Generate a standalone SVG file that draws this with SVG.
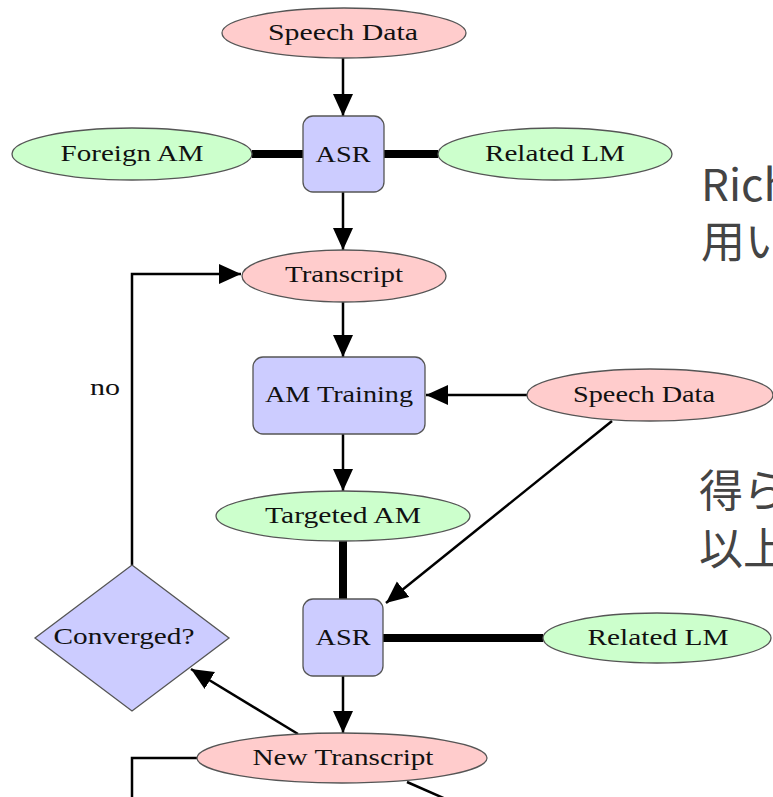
<svg xmlns="http://www.w3.org/2000/svg" width="773" height="797" viewBox="0 0 773 797">
<style>
.pink{fill:#ffcccc;stroke:#555;stroke-width:1.3}
.green{fill:#ccffcc;stroke:#555;stroke-width:1.3}
.blue{fill:#ccccff;stroke:#555;stroke-width:1.3}
.lbl{font-family:"Liberation Serif","Times New Roman",serif;font-size:23px;fill:#111;text-anchor:middle}
.ln{stroke:#000;stroke-width:2.5;fill:none}
.thick{stroke:#000;stroke-width:8;fill:none}
.jp{font-family:"Noto Sans CJK JP","Noto Sans",sans-serif;font-size:44px;fill:#444}
</style>
<defs>
<marker id="ah" markerUnits="userSpaceOnUse" markerWidth="24" markerHeight="22" refX="22" refY="10" orient="auto">
<path d="M0,0 L22,10 L0,20 Z" fill="#000"/>
</marker>
</defs>
<rect width="773" height="797" fill="#fff"/>
<g id="connectors">
<line class="ln" x1="343" y1="58" x2="343" y2="116" marker-end="url(#ah)"/>
<line class="thick" x1="252" y1="154" x2="303" y2="154"/>
<line class="thick" x1="384" y1="154" x2="438" y2="154"/>
<line class="ln" x1="343" y1="192" x2="343" y2="250" marker-end="url(#ah)"/>
<line class="ln" x1="343" y1="302" x2="343" y2="357" marker-end="url(#ah)"/>
<line class="ln" x1="527" y1="395" x2="426" y2="395" marker-end="url(#ah)"/>
<line class="ln" x1="343" y1="434" x2="343" y2="491" marker-end="url(#ah)"/>
<line class="thick" x1="343" y1="541" x2="343" y2="599"/>
<line class="ln" x1="612" y1="421" x2="386" y2="603" marker-end="url(#ah)"/>
<line class="thick" x1="383" y1="638" x2="543" y2="638"/>
<line class="ln" x1="343" y1="676" x2="343" y2="733" marker-end="url(#ah)"/>
<line class="ln" x1="298" y1="734" x2="191" y2="669" marker-end="url(#ah)"/>
<polyline class="ln" points="132,565 132,274 241,274" marker-end="url(#ah)"/>
<polyline class="ln" points="197,758 132,758 132,800"/>
<line class="ln" x1="407" y1="782" x2="448" y2="800"/>
<text class="lbl" x="105" y="395" textLength="30" lengthAdjust="spacingAndGlyphs">no</text>
</g>
<g id="speech1"><ellipse class="pink" cx="344" cy="33" rx="122" ry="25"/><text class="lbl" x="343" y="40" textLength="150" lengthAdjust="spacingAndGlyphs">Speech Data</text></g>
<g id="foreignAM"><ellipse class="green" cx="132" cy="154" rx="120" ry="26"/><text class="lbl" x="132" y="161" textLength="143" lengthAdjust="spacingAndGlyphs">Foreign AM</text></g>
<g id="asr1"><rect class="blue" x="303" y="116" width="81" height="76" rx="10"/><text class="lbl" x="343" y="162" textLength="55" lengthAdjust="spacingAndGlyphs">ASR</text></g>
<g id="relatedLM1"><ellipse class="green" cx="555" cy="154" rx="117" ry="26"/><text class="lbl" x="555" y="161" textLength="140" lengthAdjust="spacingAndGlyphs">Related LM</text></g>
<g id="transcript"><ellipse class="pink" cx="344" cy="276" rx="102" ry="26"/><text class="lbl" x="344" y="282" textLength="118" lengthAdjust="spacingAndGlyphs">Transcript</text></g>
<g id="amTraining"><rect class="blue" x="253" y="357" width="172" height="77" rx="10"/><text class="lbl" x="339" y="402" textLength="148" lengthAdjust="spacingAndGlyphs">AM Training</text></g>
<g id="speech2"><ellipse class="pink" cx="650" cy="395" rx="123" ry="26"/><text class="lbl" x="644" y="402" textLength="142" lengthAdjust="spacingAndGlyphs">Speech Data</text></g>
<g id="targetedAM"><ellipse class="green" cx="343" cy="516" rx="127" ry="25"/><text class="lbl" x="343" y="523" textLength="156" lengthAdjust="spacingAndGlyphs">Targeted AM</text></g>
<g id="converged"><polygon class="blue" points="132,565 229,638 132,711 35,638"/><text class="lbl" x="124" y="644" textLength="141" lengthAdjust="spacingAndGlyphs">Converged?</text></g>
<g id="asr2"><rect class="blue" x="303" y="599" width="80" height="77" rx="10"/><text class="lbl" x="343" y="645" textLength="55" lengthAdjust="spacingAndGlyphs">ASR</text></g>
<g id="relatedLM2"><ellipse class="green" cx="657" cy="638" rx="114" ry="25"/><text class="lbl" x="658" y="645" textLength="141" lengthAdjust="spacingAndGlyphs">Related LM</text></g>
<g id="newTranscript"><ellipse class="pink" cx="342" cy="758" rx="145" ry="25"/><text class="lbl" x="343" y="765" textLength="181" lengthAdjust="spacingAndGlyphs">New Transcript</text></g>
<g id="slideText">
<text class="jp" x="701" y="201">Rich</text>
<text class="jp" x="701" y="258">用い</text>
<text class="jp" x="699" y="507">得ら</text>
<text class="jp" x="699" y="565">以上</text>
</g>
</svg>
